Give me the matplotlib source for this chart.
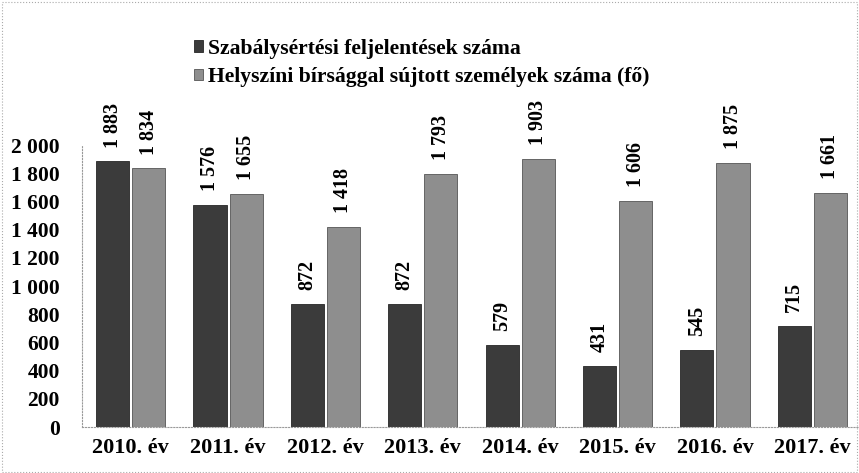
import matplotlib.pyplot as plt, numpy as np

# data
years = ['2010. év', '2011. év', '2012. év', '2013. év', '2014. év', '2015. év', '2016. év', '2017. év']
feljelentes = [1883, 1576, 872, 872, 579, 431, 545, 715]
birsag = [1834, 1655, 1418, 1793, 1903, 1606, 1875, 1661]
series_names = ['Szabálysértési feljelentések száma', 'Helyszíni bírsággal sújtott személyek száma (fő)']

def fmt(v):
    return f'{v:,}'.replace(',', ' ')

plt.rcParams['font.family'] = ['Liberation Serif', 'DejaVu Serif']
plt.rcParams['font.weight'] = 'bold'

fig = plt.figure(figsize=(8.59, 4.73), dpi=100)
ax = fig.add_axes([82/859, 46/473, 779/859, 282/473])

x = np.arange(len(years))
w = 0.34
b1 = ax.bar(x - w/2 - 0.015, feljelentes, w, color='#3b3b3b', edgecolor='#262626', linewidth=0.6, label=series_names[0])
b2 = ax.bar(x + w/2 + 0.015, birsag, w, color='#8e8e8e', edgecolor='#555555', linewidth=0.6, label=series_names[1])

for bars, vals in ((b1, feljelentes), (b2, birsag)):
    for r, v in zip(bars, vals):
        ax.annotate(fmt(v), (r.get_x() + r.get_width()/2, v), xytext=(0, 10),
                    textcoords='offset points', rotation=90, ha='center', va='bottom',
                    fontsize=14.5, fontweight='bold', annotation_clip=False)

ax.set_xlim(-0.5, len(years) - 0.5)
ax.set_ylim(0, 2000)
ax.set_yticks(range(0, 2001, 200))
ax.set_yticklabels([fmt(v) for v in range(0, 2001, 200)], fontsize=15.5)
ax.set_xticks(x)
ax.set_xticklabels(years, fontsize=16)
ax.tick_params(length=0, pad=8)
ax.tick_params(axis='y', pad=16)
for s in ['top', 'right']:
    ax.spines[s].set_visible(False)
ax.spines['left'].set_linestyle(':')
ax.spines['left'].set_color('#999999')
ax.spines['bottom'].set_linestyle(':')
ax.spines['bottom'].set_color('#999999')

# legend at the top
leg = fig.legend(handles=[b1, b2], loc='upper left', bbox_to_anchor=(185/859, 1 - 30/473),
                 frameon=False, fontsize=15.6, handlelength=0.45, handleheight=0.45,
                 handletextpad=0.2, labelspacing=0.4, borderaxespad=0)
for t in leg.get_texts():
    t.set_fontweight('bold')

# dotted frame round the picture
fig.patches.append(plt.Rectangle((0.002, 0.002), 0.996, 0.994, transform=fig.transFigure,
                                 fill=False, linestyle=':', edgecolor='#aaaaaa', linewidth=0.8))

fig.savefig('out.png', dpi=100)
